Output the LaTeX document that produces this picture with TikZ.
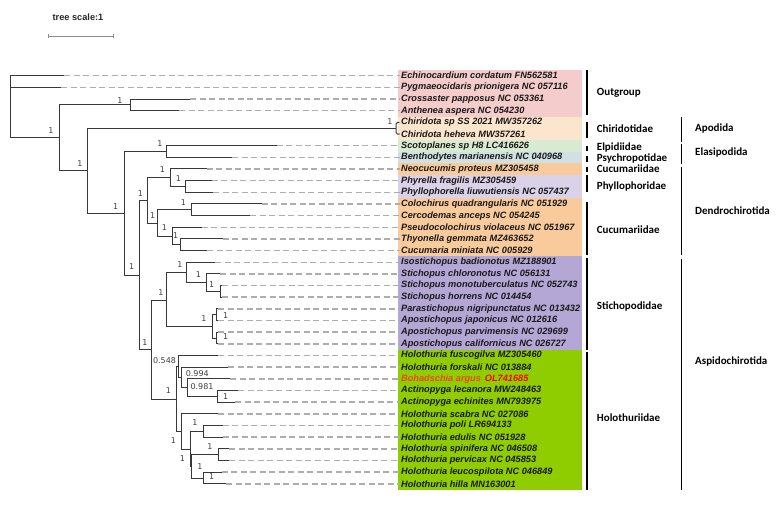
\documentclass[tikz,border=0pt]{standalone}
\usepackage{fontspec}
\setmainfont{Liberation Sans}
\newfontfamily\leaffont{Liberation Sans}
\newfontfamily\cladefont{Carlito}
\newfontfamily\supfont{DejaVu Sans}

% band colours
\definecolor{outpink}{HTML}{F4CCCC}
\definecolor{chipeach}{HTML}{FCE5CD}
\definecolor{elpgreen}{HTML}{D9EAD3}
\definecolor{psyblue}{HTML}{D0E0E3}
\definecolor{cucorange}{HTML}{F9CB9C}
\definecolor{phylilac}{HTML}{D9D2E9}
\definecolor{stipurple}{HTML}{B4A7D6}
\definecolor{holgreen}{HTML}{8FCC00}
\definecolor{bohred}{HTML}{F0462A}

\tikzset{
  branch/.style={draw=black!78, line width=1pt},
  guide/.style={draw=black!32, line width=1.5pt, dash pattern=on 6pt off 3.5pt},
  leaf/.style={anchor=west, inner sep=1pt, text=black!90,
    font=\leaffont\bfseries\itshape\fontsize{9.2}{10}\selectfont},
  support/.style={inner sep=0pt, text=black!75, font=\supfont\fontsize{8}{9}\selectfont},
  cladetext/.style={anchor=west, inner sep=0pt, font=\cladefont\bfseries\fontsize{11}{12}\selectfont},
  bar/.style={draw=black, line width=1.3pt},
}

\begin{document}
\begin{tikzpicture}[x=1pt,y=-1pt]
	\useasboundingbox (0,0) rectangle (783,504);
	% scale
	\node[font=\bfseries\fontsize{9.2}{10}\selectfont, text=black!85] (scalelbl) at (78,17.7) {tree scale:1};
	\draw[draw=black!45, line width=0.8pt] (48.3,36) -- (113.3,36);
	\draw[draw=black!45, line width=0.8pt] (48.3,34.3) -- (48.3,37.7) (113.3,34.3) -- (113.3,37.7);

	% coloured bands
	\fill[outpink]   (398,69.9)  rectangle (582,116.5);
	\fill[chipeach]  (398,116.5) rectangle (582,139.8);
	\fill[elpgreen]  (398,139.8) rectangle (582,151.5);
	\fill[psyblue]   (398,151.5) rectangle (582,163.1);
	\fill[cucorange] (398,163.1) rectangle (582,174.8);
	\fill[phylilac]  (398,174.8) rectangle (582,198.1);
	\fill[cucorange] (398,198.1) rectangle (582,256.4);
	\fill[stipurple] (398,256.4) rectangle (582,349.7);
	\fill[holgreen]  (398,349.7) rectangle (582,489.6);

	% leaves
	\foreach \i/\tip/\txt in {
		0/64.3/Echinocardium cordatum FN562581,
		1/61/Pygmaeocidaris prionigera NC 057116,
		2/190/Crossaster papposus NC 053361,
		3/179/Anthenea aspera NC 054230,
		4/399/Chiridota sp SS 2021 MW357262,
		5/399/Chiridota heheva MW357261,
		6/276.7/Scotoplanes sp H8 LC416626,
		7/232.3/Benthodytes marianensis NC 040968,
		8/206.7/Neocucumis proteus MZ305458,
		9/211.7/Phyrella fragilis MZ305459,
		10/213.3/Phyllophorella liuwutiensis NC 057437,
		11/261.7/Colochirus quadrangularis NC 051929,
		12/250/Cercodemas anceps NC 054245,
		13/201.7/Pseudocolochirus violaceus NC 051967,
		14/222.7/Thyonella gemmata MZ463652,
		15/207.3/Cucumaria miniata NC 005929,
		16/215/Isostichopus badionotus MZ188901,
		17/220/Stichopus chloronotus NC 056131,
		18/222/Stichopus monotuberculatus NC 052743,
		19/222/Stichopus horrens NC 014454,
		20/218.3/Parastichopus nigripunctatus NC 013432,
		21/218.3/Apostichopus japonicus NC 012616,
		22/218.3/Apostichopus parvimensis NC 029699,
		23/218.3/Apostichopus californicus NC 026727,
		24/218.3/Holothuria fuscogilva MZ305460,
		25/228/Holothuria forskali NC 013884,
		26/230/{\textcolor{bohred}{Bohadschia argus}\hspace{4pt}\textcolor{red}{OL741685}},
		27/238.3/Actinopyga lecanora MW248463,
		28/235/Actinopyga echinites MN793975,
		29/218.3/Holothuria scabra NC 027086,
		30/222.7/Holothuria poli LR694133,
		31/222.7/Holothuria edulis NC 051928,
		32/229.3/Holothuria spinifera NC 046508,
		33/229.3/Holothuria pervicax NC 045853,
		34/221.7/Holothuria leucospilota NC 046849,
		35/226/Holothuria hilla MN163001}{
		\pgfmathsetmacro\yy{75.7+11.66*\i}
		\coordinate (t\i) at (\tip,\yy);
		\node[leaf] (l\i) at (400,\yy) {\txt};
		\draw[guide] (t\i) -- (l\i.west);
	}

	% internal nodes
	\coordinate (nRoot) at (10.7,106.7);
	\coordinate (nB1)   at (59,137.7);
	\coordinate (nAst)  at (130,104.9);
	\coordinate (nAll)  at (87.7,170.7);
	\coordinate (nChi)  at (396,128.2);
	\coordinate (nN1)   at (124.3,213.3);
	\coordinate (nEla)  at (166.7,151.5);
	\coordinate (nN2)   at (139,275);
	\coordinate (nDen)  at (147.7,200.5);
	\coordinate (nN3)   at (170.7,177.7);
	\coordinate (nPhy)  at (185.7,186.5);
	\coordinate (nCuc)  at (157.7,223);
	\coordinate (nCo)   at (191.7,209.8);
	\coordinate (nN4)   at (172.3,236);
	\coordinate (nTh)   at (180,244.8);
	\coordinate (nAsp)  at (151,349.5);
	\coordinate (nSti)  at (166.7,300);
	\coordinate (nS1)   at (186,272.5);
	\coordinate (nS2)   at (206.7,282.7);
	\coordinate (nS3)   at (220,291.5);
	\coordinate (nS4)   at (212.7,326.5);
	\coordinate (nS5)   at (216.7,314.8);
	\coordinate (nS6)   at (216.7,338.2);
	\coordinate (nHo)   at (176,399);
	\coordinate (nH1)   at (178.3,366.5);
	\coordinate (nH2)   at (181,377.5);
	\coordinate (nH3)   at (187.3,387.7);
	\coordinate (nH4)   at (217.7,396.5);
	\coordinate (nH5)   at (181,431.5);
	\coordinate (nH6)   at (190,449);
	\coordinate (nH7)   at (203.3,431.5);
	\coordinate (nH8)   at (191.7,466.6);
	\coordinate (nH9)   at (218.3,454.8);
	\coordinate (nH10)  at (203.3,478.2);

	% branches
	\draw[branch] (nRoot) |- (t0) (nRoot) |- (t1) (nRoot) |- (nB1);
	\draw[branch] (nB1) |- (nAst) (nB1) |- (nAll);
	\draw[branch] (nAst) |- (t2) (nAst) |- (t3);
	\draw[branch] (nAll) |- (nChi) (nAll) |- (nN1);
	\draw[branch, rounded corners=1.5pt] (nChi) |- (t4) (nChi) |- (t5);
	\draw[branch] (nN1) |- (nEla) (nN1) |- (nN2);
	\draw[branch] (nEla) |- (t6) (nEla) |- (t7);
	\draw[branch] (nN2) |- (nDen) (nN2) |- (nAsp);
	\draw[branch] (nDen) |- (nN3) (nDen) |- (nCuc);
	\draw[branch] (nN3) |- (t8) (nN3) |- (nPhy);
	\draw[branch] (nPhy) |- (t9) (nPhy) |- (t10);
	\draw[branch] (nCuc) |- (nCo) (nCuc) |- (nN4);
	\draw[branch] (nCo) |- (t11) (nCo) |- (t12);
	\draw[branch] (nN4) |- (t13) (nN4) |- (nTh);
	\draw[branch] (nTh) |- (t14) (nTh) |- (t15);
	\draw[branch] (nAsp) |- (nSti) (nAsp) |- (nHo);
	\draw[branch] (nSti) |- (nS1) (nSti) |- (nS4);
	\draw[branch] (nS1) |- (t16) (nS1) |- (nS2);
	\draw[branch] (nS2) |- (t17) (nS2) |- (nS3);
	\draw[branch] (nS3) |- (t18) (nS3) |- (t19);
	\draw[branch] (nS4) |- (nS5) (nS4) |- (nS6);
	\draw[branch] (nS5) |- (t20) (nS5) |- (t21);
	\draw[branch] (nS6) |- (t22) (nS6) |- (t23);
	\draw[branch] (nHo) |- (nH1) (nHo) |- (nH5);
	\draw[branch] (nH1) |- (t24) (nH1) |- (nH2);
	\draw[branch] (nH2) |- (t25) (nH2) |- (nH3);
	\draw[branch] (nH3) |- (t26) (nH3) |- (nH4);
	\draw[branch] (nH4) |- (t27) (nH4) |- (t28);
	\draw[branch] (nH5) |- (t29) (nH5) |- (nH6);
	\draw[branch] (nH6) |- (nH7) (nH6) |- (nH8);
	\draw[branch] (nH7) |- (t30) (nH7) |- (t31);
	\draw[branch] (nH8) |- (nH9) (nH8) |- (nH10);
	\draw[branch] (nH9) |- (t32) (nH9) |- (t33);
	\draw[branch] (nH10) |- (t34) (nH10) |- (t35);

	% support values
	\node[support] (sB1)  at (51,130.7)    {1};
	\node[support] (sAst) at (120,101)     {1};
	\node[support] (sAll) at (80,164)      {1};
	\node[support] (sChi) at (390,121.5)   {1};
	\node[support] (sN1)  at (115.7,206.7) {1};
	\node[support] (sEla) at (160,144)     {1};
	\node[support] (sN2)  at (131.7,266.7) {1};
	\node[support] (sDen) at (140.5,193.5) {1};
	\node[support] (sN3)  at (162.3,170)   {1};
	\node[support] (sPhy) at (178.3,178.7) {1};
	\node[support] (sCuc) at (152.7,216)   {1};
	\node[support] (sCo)  at (183.3,202.7) {1};
	\node[support] (sN4)  at (164.3,227.7) {1};
	\node[support] (sTh)  at (175.7,235.7) {1};
	\node[support] (sAsp) at (145,342.5)   {1};
	\node[support] (sSti) at (161,292.7)   {1};
	\node[support] (sS1)  at (180,264.3)   {1};
	\node[support] (sS2)  at (198.3,275)   {1};
	\node[support] (sS3)  at (211.7,284.3) {1};
	\node[support] (sS4)  at (204,318.3)   {1};
	\node[support] (sS5)  at (225.7,316)   {1};
	\node[support] (sS6)  at (225.7,337)   {1};
	\node[support] (sHo)  at (168.3,391)   {1};
	\node[support] (sH1)  at (164.5,360.7) {0.548};
	\node[support] (sH2)  at (197.3,374)   {0.994};
	\node[support] (sH3)  at (202,386.7)   {0.981};
	\node[support] (sH4)  at (225.7,396.7) {1};
	\node[support] (sH5)  at (173.3,440.5) {1};
	\node[support] (sH6)  at (182.3,458.3) {1};
	\node[support] (sH7)  at (195,422.7)   {1};
	\node[support] (sH8)  at (200,466.7)   {1};
	\node[support] (sH9)  at (210,446.7)   {1};
	\node[support] (sH10) at (211.7,477)   {1};

	% families
	\draw[bar] (587,70) -- (587,115);
	\draw[bar] (587,121.7) -- (587,138.3);
	\draw[bar] (587,146) -- (587,150.7);
	\draw[bar] (587,156) -- (587,161.7);
	\draw[bar] (587,166.7) -- (587,171.7);
	\draw[bar] (587,175) -- (587,192.3);
	\draw[bar] (587,201.7) -- (587,255);
	\draw[bar] (587,258.3) -- (587,350);
	\draw[bar] (587,351.7) -- (587,490);
	\node[cladetext] (fOut) at (596.7,92.7)  {Outgroup};
	\node[cladetext] (fChi) at (596.7,129)   {Chiridotidae};
	\node[cladetext] (fElp) at (596.7,147.3) {Elpidiidae};
	\node[cladetext] (fPsy) at (596.7,158.7) {Psychropotidae};
	\node[cladetext] (fNeo) at (596.7,169)   {Cucumariidae};
	\node[cladetext] (fPhy) at (596.7,186.7) {Phyllophoridae};
	\node[cladetext] (fCuc) at (596.7,229.3) {Cucumariidae};
	\node[cladetext] (fSti) at (596.7,306.7) {Stichopodidae};
	\node[cladetext] (fHol) at (596.7,417.3) {Holothuriidae};

	% orders
	\draw[bar] (681.7,117.3) -- (681.7,141.7);
	\draw[bar] (681.7,144) -- (681.7,164);
	\draw[bar] (681.7,167.3) -- (681.7,255);
	\draw[bar] (681.7,259.3) -- (681.7,490);
	\node[cladetext] (oApo) at (695,129)   {Apodida};
	\node[cladetext] (oEla) at (695,152.7) {Elasipodida};
	\node[cladetext] (oDen) at (695,210.7) {Dendrochirotida};
	\node[cladetext] (oAsp) at (695,361.7) {Aspidochirotida};
\end{tikzpicture}
\end{document}
